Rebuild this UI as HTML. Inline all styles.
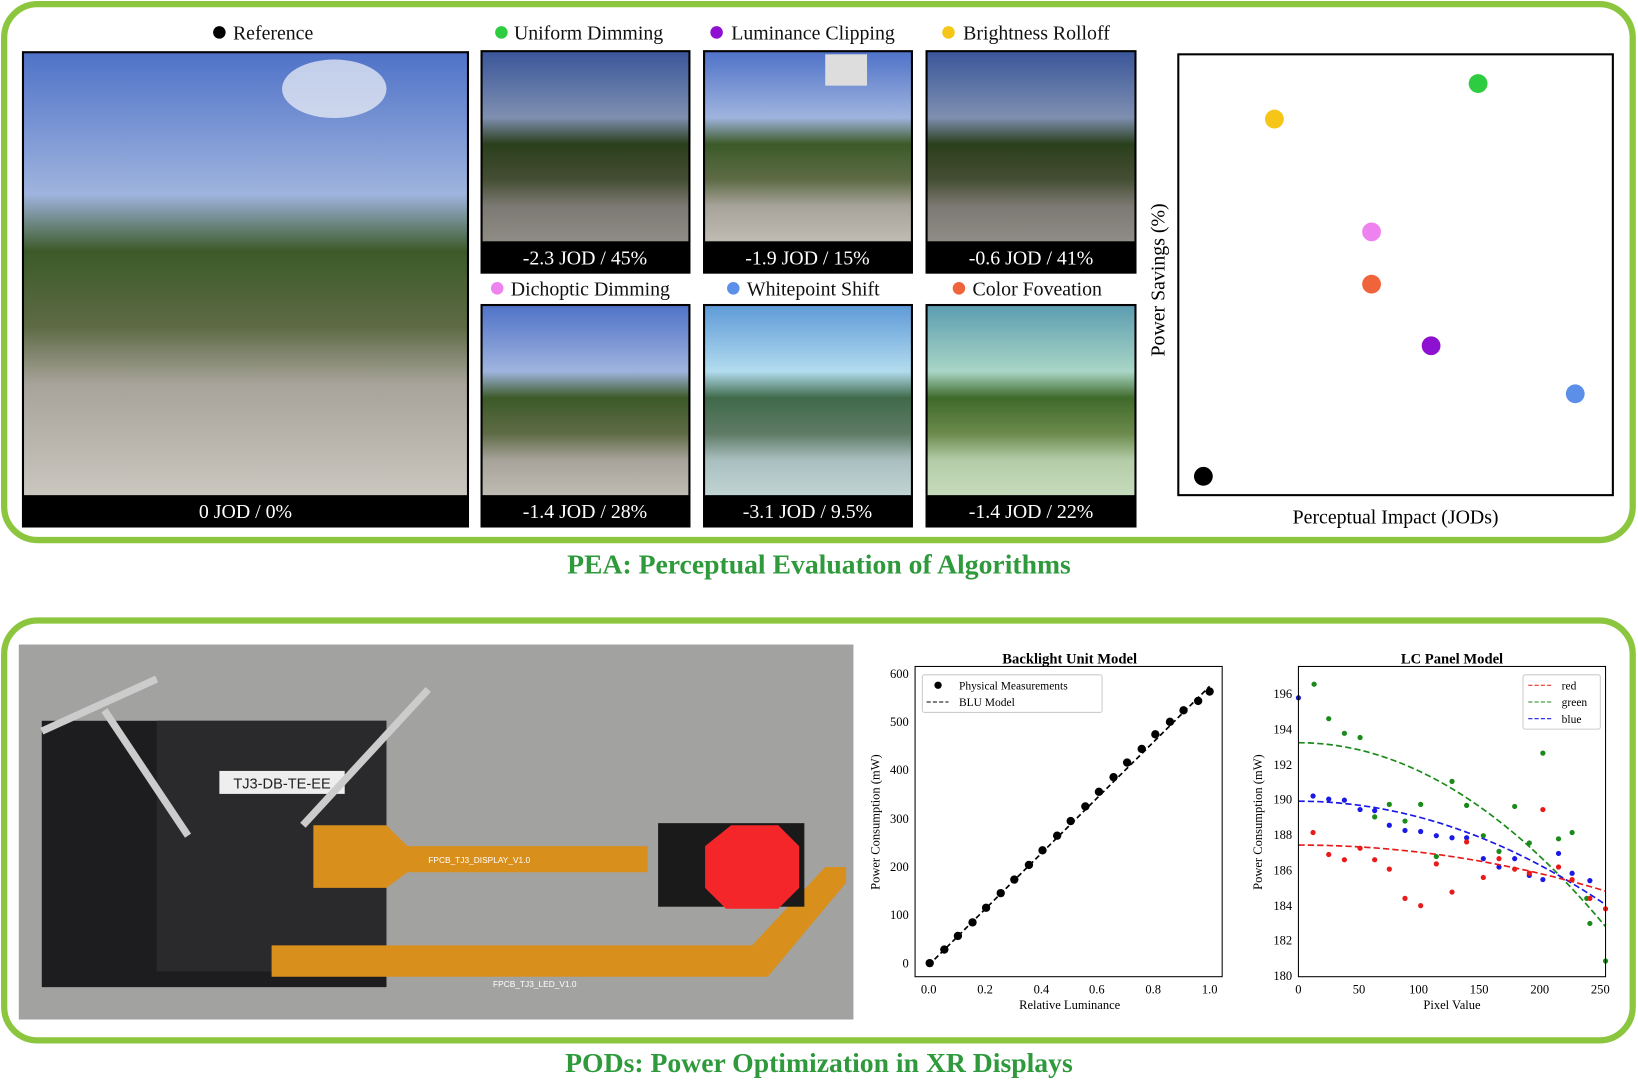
<!DOCTYPE html>
<html><head><meta charset="utf-8"><style>
html,body{margin:0;padding:0;background:#fff;}
svg{display:block;font-family:"Liberation Serif",serif;}
</style></head><body>
<svg width="1638" height="1080" viewBox="0 0 1638 1080" xmlns="http://www.w3.org/2000/svg">
<defs>
<linearGradient id="sc" x1="0" y1="0" x2="0" y2="1">
<stop offset="0" stop-color="#4f72c8"/><stop offset="0.3" stop-color="#9fb4de"/><stop offset="0.42" stop-color="#3c5a28"/><stop offset="0.58" stop-color="#5e6b45"/><stop offset="0.7" stop-color="#a7a39a"/><stop offset="1" stop-color="#d4d1ca"/></linearGradient>
<linearGradient id="sd" x1="0" y1="0" x2="0" y2="1">
<stop offset="0" stop-color="#3a569a"/><stop offset="0.3" stop-color="#7e8fb0"/><stop offset="0.42" stop-color="#2a3f1c"/><stop offset="0.58" stop-color="#454e33"/><stop offset="0.7" stop-color="#7c7973"/><stop offset="1" stop-color="#a09d97"/></linearGradient>
<linearGradient id="sw" x1="0" y1="0" x2="0" y2="1">
<stop offset="0" stop-color="#5e9ad8"/><stop offset="0.3" stop-color="#b2dcee"/><stop offset="0.42" stop-color="#3f6a4a"/><stop offset="0.58" stop-color="#5f7b66"/><stop offset="0.7" stop-color="#a9bfbf"/><stop offset="1" stop-color="#d6e6e6"/></linearGradient>
<linearGradient id="sf" x1="0" y1="0" x2="0" y2="1">
<stop offset="0" stop-color="#5b9cb0"/><stop offset="0.3" stop-color="#a9d6c6"/><stop offset="0.42" stop-color="#3f6a2a"/><stop offset="0.58" stop-color="#6b8a4c"/><stop offset="0.7" stop-color="#b4cca8"/><stop offset="1" stop-color="#d6e8cc"/></linearGradient>
</defs>
<g transform="scale(1.0446)">
<rect x="4" y="4" width="1559" height="513" rx="32" fill="none" stroke="#8cc63f" stroke-width="6"/>
<rect x="4" y="594" width="1559" height="402" rx="32" fill="none" stroke="#8cc63f" stroke-width="6"/>
<text x="784" y="549" text-anchor="middle" font-size="26.5" font-weight="bold" fill="#2e9a3c">PEA: Perceptual Evaluation of Algorithms</text>
<text x="784" y="1026" text-anchor="middle" font-size="26.5" font-weight="bold" fill="#2e9a3c">PODs: Power Optimization in XR Displays</text>

<g font-size="19" fill="#111">
<circle cx="210" cy="31" r="6" fill="#000"/><text x="223" y="38">Reference</text>
<circle cx="480" cy="31" r="6" fill="#2ecc40"/><text x="492" y="38">Uniform Dimming</text>
<circle cx="686" cy="31" r="6" fill="#8e10d0"/><text x="700" y="38">Luminance Clipping</text>
<circle cx="908" cy="31" r="6" fill="#f5c518"/><text x="922" y="38">Brightness Rolloff</text>
<circle cx="476" cy="276" r="6" fill="#ee82ee"/><text x="489" y="283">Dichoptic Dimming</text>
<circle cx="702" cy="276" r="6" fill="#5b8fe8"/><text x="715" y="283">Whitepoint Shift</text>
<circle cx="918" cy="276" r="6" fill="#f0643c"/><text x="931" y="283">Color Foveation</text>
</g>
<rect x="22" y="50" width="426" height="454" fill="url(#sc)" stroke="#000" stroke-width="2"/>
<ellipse cx="320" cy="85" rx="50" ry="28" fill="#f2f4f8" opacity="0.7"/>
<rect x="22" y="474" width="426" height="30" fill="#000"/>
<text x="235" y="496" text-anchor="middle" font-size="19" fill="#fff">0 JOD / 0%</text>
<g font-size="19" fill="#fff" text-anchor="middle">
<rect x="461" y="49" width="199" height="212" fill="url(#sd)" stroke="#000" stroke-width="2"/>
<rect x="461" y="231" width="199" height="30" fill="#000"/><text x="560" y="253">-2.3 JOD / 45%</text>
<rect x="674" y="49" width="199" height="212" fill="url(#sc)" stroke="#000" stroke-width="2"/>
<rect x="790" y="52" width="40" height="30" fill="#ddd"/>
<rect x="674" y="231" width="199" height="30" fill="#000"/><text x="773" y="253">-1.9 JOD / 15%</text>
<rect x="887" y="49" width="200" height="212" fill="url(#sd)" stroke="#000" stroke-width="2"/>
<rect x="887" y="231" width="200" height="30" fill="#000"/><text x="987" y="253">-0.6 JOD / 41%</text>
<rect x="461" y="292" width="199" height="212" fill="url(#sc)" stroke="#000" stroke-width="2"/>
<rect x="461" y="474" width="199" height="30" fill="#000"/><text x="560" y="496">-1.4 JOD / 28%</text>
<rect x="674" y="292" width="199" height="212" fill="url(#sw)" stroke="#000" stroke-width="2"/>
<rect x="674" y="474" width="199" height="30" fill="#000"/><text x="773" y="496">-3.1 JOD / 9.5%</text>
<rect x="887" y="292" width="200" height="212" fill="url(#sf)" stroke="#000" stroke-width="2"/>
<rect x="887" y="474" width="200" height="30" fill="#000"/><text x="987" y="496">-1.4 JOD / 22%</text>
</g>
<rect x="1128" y="52" width="416" height="422" fill="#fff" stroke="#000" stroke-width="2"/>
<circle cx="1415" cy="80" r="9" fill="#2ecc40"/>
<circle cx="1220" cy="114" r="9" fill="#f5c518"/>
<circle cx="1313" cy="222" r="9" fill="#ee82ee"/>
<circle cx="1313" cy="272" r="9" fill="#f0643c"/>
<circle cx="1370" cy="331" r="9" fill="#8e10d0"/>
<circle cx="1508" cy="377" r="9" fill="#5b8fe8"/>
<circle cx="1152" cy="456" r="9" fill="#000"/>
<text x="1336" y="501" text-anchor="middle" font-size="19">Perceptual Impact (JODs)</text>
<text transform="translate(1115,268) rotate(-90)" text-anchor="middle" font-size="19">Power Savings (%)</text>

<!-- photo -->
<rect x="18" y="617" width="799" height="359" fill="#a2a3a1"/>
<rect x="40" y="690" width="330" height="255" fill="#1d1d1f"/>
<rect x="150" y="690" width="220" height="240" fill="#2a2a2c"/>
<rect x="210" y="738" width="120" height="22" fill="#eee"/>
<text x="270" y="755" text-anchor="middle" font-size="14" fill="#222" font-family="Liberation Sans,sans-serif">TJ3-DB-TE-EE</text>
<path d="M300 790 L370 790 L390 810 L620 810 L620 835 L390 835 L370 850 L300 850 Z" fill="#d98f1c"/>
<path d="M260 905 L720 905 L790 830 L810 830 L810 845 L735 935 L260 935 Z" fill="#d98f1c"/>
<text x="410" y="826" font-size="8" fill="#fff" font-family="Liberation Sans,sans-serif">FPCB_TJ3_DISPLAY_V1.0</text>
<text x="472" y="945" font-size="8" fill="#fff" font-family="Liberation Sans,sans-serif">FPCB_TJ3_LED_V1.0</text>
<rect x="630" y="788" width="140" height="80" fill="#1a1a1a"/>
<polygon points="700,790 745,790 765,810 765,850 745,870 695,870 675,850 675,810" fill="#f5262a"/>
<path d="M40 700 L150 650 M180 800 L100 680 M290 790 L410 660" stroke="#ccc" stroke-width="7"/>

<!-- BLU chart -->
<g font-size="12">
<text x="1024" y="635" text-anchor="middle" font-size="14" font-weight="bold">Backlight Unit Model</text>
<rect x="876" y="638" width="294" height="297" fill="none" stroke="#000"/>
<g text-anchor="end">
<text x="870" y="649">600</text><text x="870" y="695">500</text><text x="870" y="741">400</text><text x="870" y="788">300</text><text x="870" y="834">200</text><text x="870" y="880">100</text><text x="870" y="926">0</text></g>
<g text-anchor="middle">
<text x="889" y="951">0.0</text><text x="943" y="951">0.2</text><text x="997" y="951">0.4</text><text x="1050" y="951">0.6</text><text x="1104" y="951">0.8</text><text x="1158" y="951">1.0</text>
<text x="1024" y="966" font-size="12">Relative Luminance</text></g>
<text transform="translate(842,787) rotate(-90)" text-anchor="middle">Power Consumption (mW)</text>
<line x1="889" y1="924" x2="1158" y2="657" stroke="#000" stroke-width="1.6" stroke-dasharray="5,3"/>
<g fill="#000">
<circle cx="890" cy="922" r="4"/><circle cx="904" cy="909" r="4"/><circle cx="917" cy="896" r="4"/><circle cx="931" cy="883" r="4"/><circle cx="944" cy="869" r="4"/><circle cx="958" cy="855" r="4"/><circle cx="971" cy="842" r="4"/><circle cx="985" cy="828" r="4"/><circle cx="998" cy="814" r="4"/><circle cx="1012" cy="800" r="4"/><circle cx="1025" cy="786" r="4"/><circle cx="1039" cy="772" r="4"/><circle cx="1052" cy="758" r="4"/><circle cx="1066" cy="744" r="4"/><circle cx="1079" cy="730" r="4"/><circle cx="1093" cy="717" r="4"/><circle cx="1106" cy="703" r="4"/><circle cx="1120" cy="691" r="4"/><circle cx="1133" cy="680" r="4"/><circle cx="1147" cy="671" r="4"/><circle cx="1158" cy="662" r="4"/></g>
<rect x="883" y="646" width="172" height="36" fill="#fff" stroke="#ccc" rx="2"/>
<circle cx="898" cy="656" r="3.5"/><text x="918" y="660" font-size="11">Physical Measurements</text>
<line x1="887" y1="672" x2="908" y2="672" stroke="#000" stroke-dasharray="4,2"/><text x="918" y="676" font-size="11">BLU Model</text>
</g>

<!-- LC chart -->
<g font-size="12">
<text x="1390" y="635" text-anchor="middle" font-size="14" font-weight="bold">LC Panel Model</text>
<g text-anchor="end">
<text x="1237" y="668">196</text><text x="1237" y="702">194</text><text x="1237" y="736">192</text><text x="1237" y="769">190</text><text x="1237" y="803">188</text><text x="1237" y="837">186</text><text x="1237" y="871">184</text><text x="1237" y="904">182</text><text x="1237" y="938">180</text></g>
<g text-anchor="middle">
<text x="1243" y="951">0</text><text x="1301" y="951">50</text><text x="1358" y="951">100</text><text x="1416" y="951">150</text><text x="1474" y="951">200</text><text x="1532" y="951">250</text>
<text x="1390" y="966">Pixel Value</text></g>
<text transform="translate(1208,787) rotate(-90)" text-anchor="middle">Power Consumption (mW)</text>
<g fill="#1a8a1a"><circle cx="1258" cy="655" r="2.5"/><circle cx="1272" cy="688" r="2.5"/><circle cx="1287" cy="702" r="2.5"/><circle cx="1302" cy="706" r="2.5"/><circle cx="1316" cy="782" r="2.5"/><circle cx="1330" cy="770" r="2.5"/><circle cx="1345" cy="786" r="2.5"/><circle cx="1360" cy="770" r="2.5"/><circle cx="1375" cy="820" r="2.5"/><circle cx="1390" cy="748" r="2.5"/><circle cx="1404" cy="771" r="2.5"/><circle cx="1420" cy="800" r="2.5"/><circle cx="1435" cy="815" r="2.5"/><circle cx="1450" cy="772" r="2.5"/><circle cx="1464" cy="807" r="2.5"/><circle cx="1477" cy="721" r="2.5"/><circle cx="1492" cy="803" r="2.5"/><circle cx="1505" cy="797" r="2.5"/><circle cx="1519" cy="860" r="2.5"/><circle cx="1522" cy="884" r="2.5"/><circle cx="1537" cy="920" r="2.5"/></g>
<g fill="#1a1ae6"><circle cx="1243" cy="668" r="2.5"/><circle cx="1257" cy="762" r="2.5"/><circle cx="1272" cy="765" r="2.5"/><circle cx="1287" cy="766" r="2.5"/><circle cx="1302" cy="775" r="2.5"/><circle cx="1316" cy="776" r="2.5"/><circle cx="1330" cy="790" r="2.5"/><circle cx="1345" cy="795" r="2.5"/><circle cx="1360" cy="796" r="2.5"/><circle cx="1375" cy="800" r="2.5"/><circle cx="1390" cy="802" r="2.5"/><circle cx="1404" cy="802" r="2.5"/><circle cx="1420" cy="822" r="2.5"/><circle cx="1435" cy="830" r="2.5"/><circle cx="1450" cy="822" r="2.5"/><circle cx="1464" cy="838" r="2.5"/><circle cx="1477" cy="842" r="2.5"/><circle cx="1492" cy="817" r="2.5"/><circle cx="1505" cy="836" r="2.5"/><circle cx="1522" cy="843" r="2.5"/></g>
<g fill="#e81a1a"><circle cx="1257" cy="797" r="2.5"/><circle cx="1272" cy="818" r="2.5"/><circle cx="1287" cy="823" r="2.5"/><circle cx="1302" cy="812" r="2.5"/><circle cx="1316" cy="823" r="2.5"/><circle cx="1330" cy="832" r="2.5"/><circle cx="1345" cy="860" r="2.5"/><circle cx="1360" cy="867" r="2.5"/><circle cx="1375" cy="827" r="2.5"/><circle cx="1390" cy="854" r="2.5"/><circle cx="1404" cy="806" r="2.5"/><circle cx="1420" cy="840" r="2.5"/><circle cx="1435" cy="822" r="2.5"/><circle cx="1450" cy="832" r="2.5"/><circle cx="1464" cy="836" r="2.5"/><circle cx="1477" cy="775" r="2.5"/><circle cx="1492" cy="830" r="2.5"/><circle cx="1505" cy="842" r="2.5"/><circle cx="1522" cy="860" r="2.5"/><circle cx="1537" cy="870" r="2.5"/></g>
<path d="M1243 711 Q1390 711 1537 887" fill="none" stroke="#1a8a1a" stroke-width="1.6" stroke-dasharray="6,3"/>
<path d="M1243 767 Q1390 767 1537 866" fill="none" stroke="#1a1ae6" stroke-width="1.6" stroke-dasharray="6,3"/>
<path d="M1243 809 Q1390 809 1537 853" fill="none" stroke="#e81a1a" stroke-width="1.6" stroke-dasharray="6,3"/>
<rect x="1243" y="638" width="294" height="297" fill="none" stroke="#000"/>
<rect x="1458" y="646" width="74" height="52" fill="#fff" stroke="#ccc" rx="2"/>
<g font-size="11"><line x1="1463" y1="656" x2="1486" y2="656" stroke="#e81a1a" stroke-dasharray="4,2"/><text x="1495" y="660">red</text>
<line x1="1463" y1="672" x2="1486" y2="672" stroke="#1a8a1a" stroke-dasharray="4,2"/><text x="1495" y="676">green</text>
<line x1="1463" y1="688" x2="1486" y2="688" stroke="#1a1ae6" stroke-dasharray="4,2"/><text x="1495" y="692">blue</text></g>
</g>
</g>
</svg>
</body></html>
